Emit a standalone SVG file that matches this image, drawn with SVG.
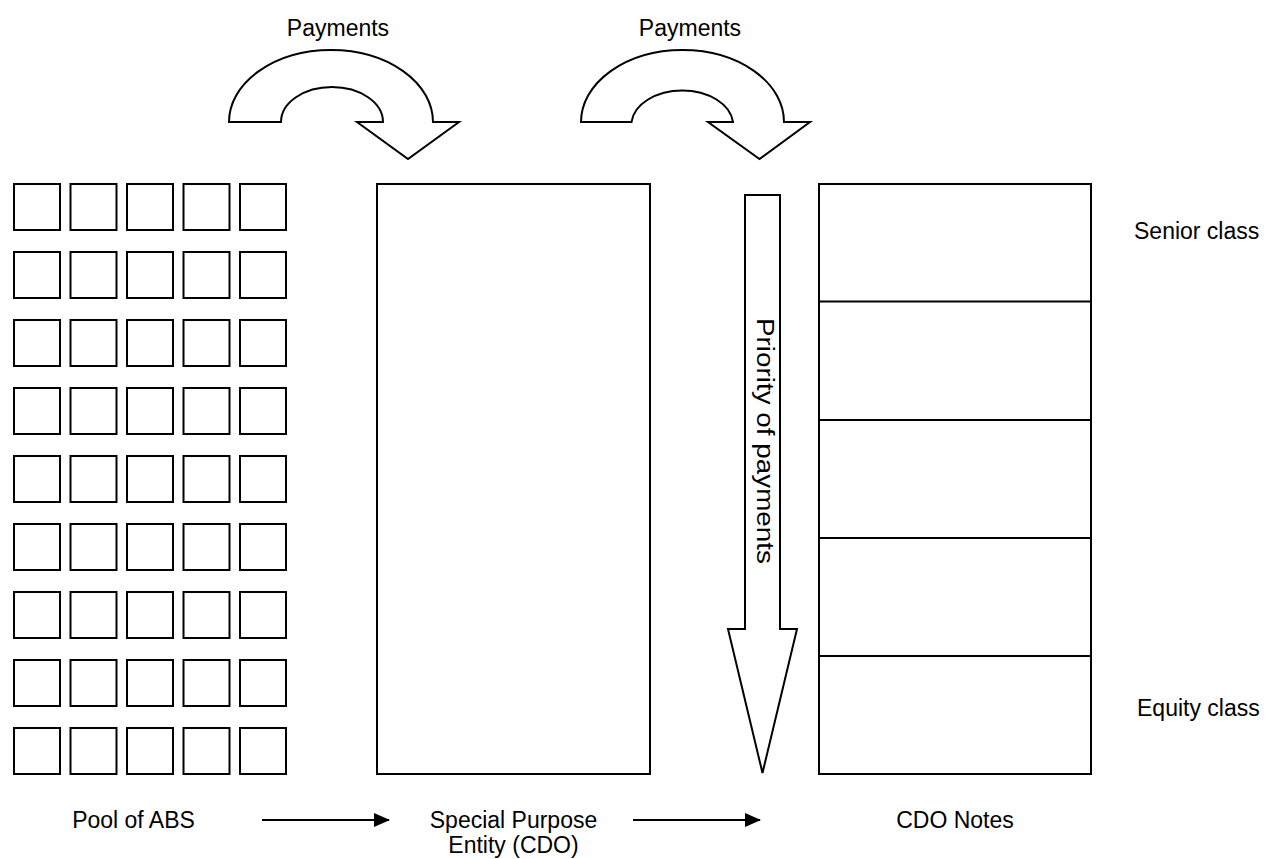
<svg xmlns="http://www.w3.org/2000/svg" width="1266" height="859" viewBox="0 0 1266 859">
<style>
.box{fill:#fff;stroke:#000;stroke-width:2}
.sq{fill:#fff;stroke:#000;stroke-width:2}
.blk{fill:#fff;stroke:#000;stroke-width:2;stroke-linejoin:miter}
.lbl{font-family:"Liberation Sans",Arial,sans-serif;font-size:23px;fill:#000}
.mid{text-anchor:middle}
.ln{stroke:#000;stroke-width:2;fill:none}
</style>
<defs>
<marker id="ah" markerUnits="userSpaceOnUse" markerWidth="16" markerHeight="14" refX="15" refY="7" orient="auto">
<path d="M0,0 L16,7 L0,14 Z" fill="#000"/>
</marker>
<g id="sqrow">
<rect class="sq" x="14" y="0" width="46" height="46"/>
<rect class="sq" x="70.5" y="0" width="46" height="46"/>
<rect class="sq" x="127" y="0" width="46" height="46"/>
<rect class="sq" x="183.5" y="0" width="46" height="46"/>
<rect class="sq" x="240" y="0" width="46" height="46"/>
</g>
</defs>
<rect width="1266" height="859" fill="#fff"/>

<g id="pool">
<use href="#sqrow" y="184"/>
<use href="#sqrow" y="252"/>
<use href="#sqrow" y="320"/>
<use href="#sqrow" y="388"/>
<use href="#sqrow" y="456"/>
<use href="#sqrow" y="524"/>
<use href="#sqrow" y="592"/>
<use href="#sqrow" y="660"/>
<use href="#sqrow" y="728"/>
<text class="lbl mid" x="133.5" y="828">Pool of ABS</text>
</g>

<g id="spe">
<rect class="box" x="377" y="184" width="273" height="590"/>
<text class="lbl mid" x="513.5" y="828">Special Purpose</text>
<text class="lbl mid" x="513.5" y="853">Entity (CDO)</text>
</g>

<g id="notes">
<rect class="box" x="819" y="184" width="272" height="590"/>
<line class="ln" x1="819" y1="301.5" x2="1091" y2="301.5"/>
<line class="ln" x1="819" y1="420" x2="1091" y2="420"/>
<line class="ln" x1="819" y1="538" x2="1091" y2="538"/>
<line class="ln" x1="819" y1="656" x2="1091" y2="656"/>
<text class="lbl mid" x="955" y="828">CDO Notes</text>
<text class="lbl" x="1134" y="239">Senior class</text>
<text class="lbl" x="1137" y="716">Equity class</text>
</g>

<g id="priority">
<path class="blk" d="M745,195 L780,195 L780,629 L797,629 L762.5,773 L728,629 L745,629 Z"/>
<text class="lbl mid" transform="translate(757,441) rotate(90)" x="0" y="0" textLength="246" lengthAdjust="spacingAndGlyphs">Priority of payments</text>
</g>

<g id="connectors">
<g id="pay1">
<path class="blk" d="M229,122 A102,72 0 0 1 433,122 L459,122 L408,159 L357,122 L383,122 A51,35 0 0 0 281,122 Z"/>
<text class="lbl mid" x="338" y="36">Payments</text>
</g>
<g id="pay2">
<path class="blk" d="M581,122 A101.5,72 0 0 1 784,122 L810,122 L759.5,159 L708,122 L733,122 A51,35 0 0 0 631.5,122 Z"/>
<text class="lbl mid" x="690" y="36">Payments</text>
</g>
<line class="ln" x1="262" y1="820" x2="389" y2="820" marker-end="url(#ah)"/>
<line class="ln" x1="633" y1="820" x2="760" y2="820" marker-end="url(#ah)"/>
</g>
</svg>
